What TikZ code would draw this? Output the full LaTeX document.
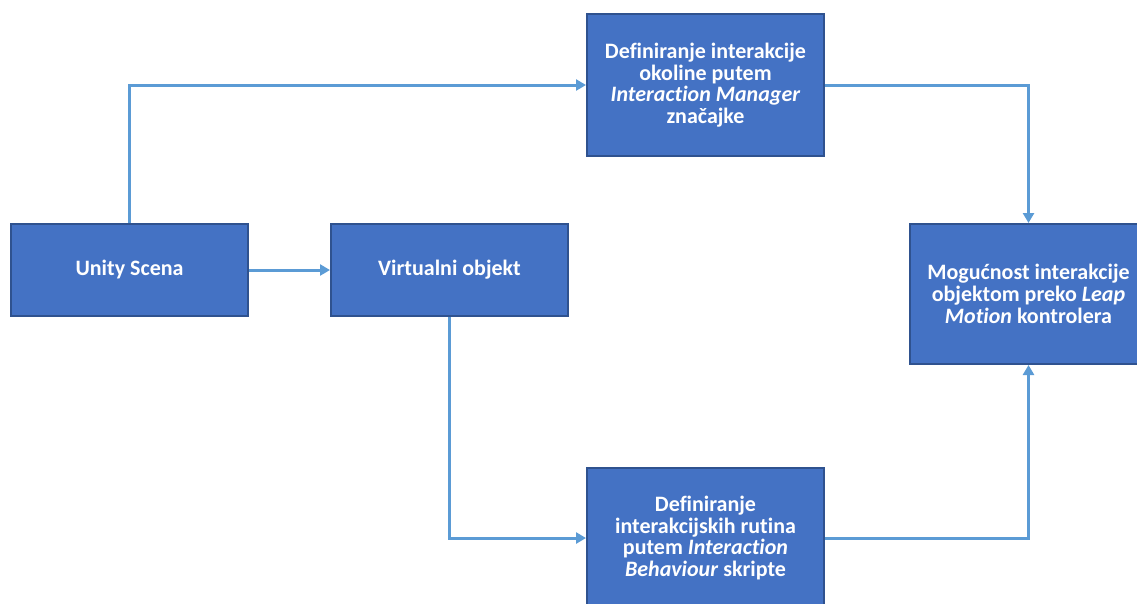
\documentclass[tikz,border=0pt]{standalone}
\usepackage{fontspec}
\setmainfont{Carlito}[Ligatures={NoCommon}]
\usetikzlibrary{arrows.meta}
\definecolor{boxfill}{HTML}{4472C4}
\definecolor{boxline}{HTML}{2F528F}
\definecolor{conn}{HTML}{5B9BD5}
\tikzset{
  box/.style={draw=boxline, line width=2pt, fill=boxfill, text=white,
    font=\fontsize{22}{21.7}\selectfont\bfseries, align=center,
    minimum width=237pt, inner sep=0pt, anchor=center},
  conline/.style={draw=conn, line width=3pt,
    -{Triangle[length=10pt,width=11pt]}}
}
\begin{document}
\begin{tikzpicture}[x=1pt,y=-1pt]
\useasboundingbox (0,0) rectangle (1137,603);
\node[box, minimum height=92pt] (unity) at (129.5,270) {Unity Scena};
\node[box, minimum height=92pt] (virt) at (449.5,270) {Virtualni objekt};
\node[box, minimum height=142pt] (top) at (705.5,85)
  {Definiranje interakcije\\okoline putem\\\textit{Interaction Manager}\\značajke};
\node[box, minimum height=140pt] (right) at (1028.5,294)
  {Mogućnost interakcije\\objektom preko \textit{Leap}\\\textit{Motion} kontrolera};
\node[box, minimum height=140pt] (bottom) at (705.5,538)
  {Definiranje\\interakcijskih rutina\\putem \textit{Interaction}\\\textit{Behaviour} skripte};
\draw[conline] (unity.north) |- (top.west);
\draw[conline] (unity.east) -- (virt.west);
\draw[conline] (virt.south) |- (bottom.west);
\draw[conline] (top.east) -| (right.north);
\draw[conline] (bottom.east) -| (right.south);
\end{tikzpicture}
\end{document}
